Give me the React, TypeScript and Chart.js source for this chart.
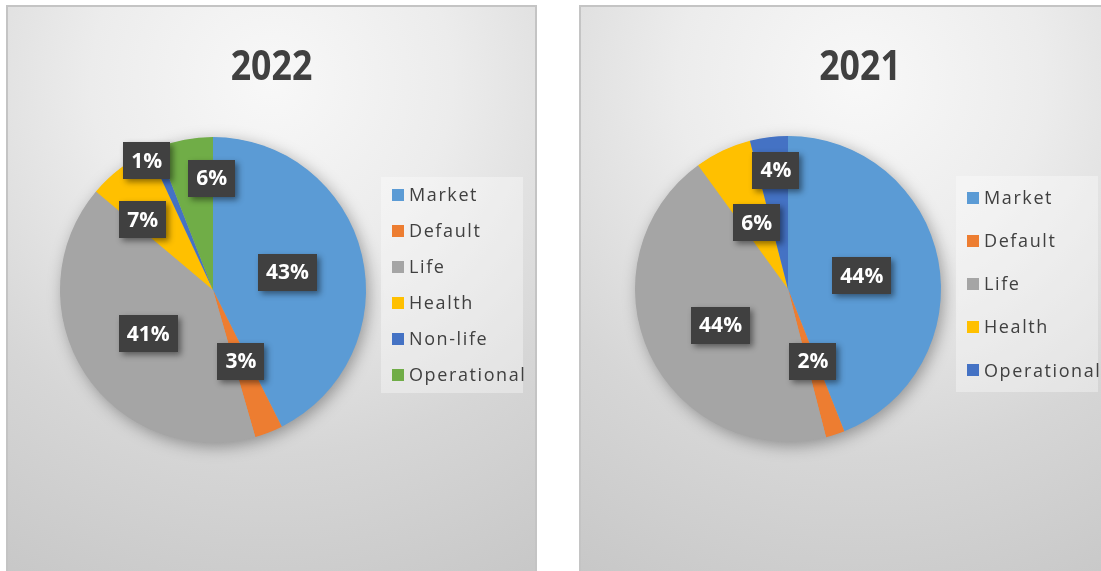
import React, { useEffect, useRef } from "react";
import { Chart, registerables } from "chart.js";

Chart.register(...registerables);

// ---------- data ----------
const title2022 = "2022";
const categories2022 = ["Market", "Default", "Life", "Health", "Non-life", "Operational"];
const values2022 = [43, 3, 41, 7, 1, 6];
const colors2022 = ["#5B9BD5", "#ED7D31", "#A5A5A5", "#FFC000", "#4472C4", "#70AD47"];

const title2021 = "2021";
const categories2021 = ["Market", "Default", "Life", "Health", "Operational"];
const values2021 = [44, 2, 44, 6, 4];
const colors2021 = ["#5B9BD5", "#ED7D31", "#A5A5A5", "#FFC000", "#4472C4"];

// label placement (fraction of radius, angular shift in degrees)
const labelRadius2022 = [0.5, 0.5, 0.51, 0.65, 0.95, 0.73];
const labelShift2022 = [0, 0, -1, -7.6, -4, 10];
const labelRadius2021 = [0.49, 0.5, 0.5, 0.48, 0.78];
const labelShift2021 = [0.8, -1, -3, 0, 1.4];

const TEXT = "#404040";

const decorPlugin = {
  id: "decor",
  beforeDatasetsDraw(chart: any, _args: any, opts: any) {
    const arc = chart.getDatasetMeta(0).data[0];
    if (!arc) return;
    const { x, y, outerRadius } = arc.getProps(["x", "y", "outerRadius"], true);
    const ctx = chart.ctx;
    ctx.save();
    ctx.shadowColor = "rgba(0,0,0,0.35)";
    ctx.shadowBlur = 16;
    ctx.shadowOffsetX = 3;
    ctx.shadowOffsetY = 4;
    ctx.beginPath();
    ctx.arc(x, y, outerRadius - 0.5, 0, Math.PI * 2);
    ctx.fillStyle = "#A5A5A5";
    ctx.fill();
    ctx.restore();
  },
  afterDatasetsDraw(chart: any, _args: any, opts: any) {
    const ctx = chart.ctx;
    const meta = chart.getDatasetMeta(0);
    const values = chart.data.datasets[0].data as number[];
    meta.data.forEach((el: any, i: number) => {
      const p = el.getProps(["x", "y", "startAngle", "endAngle", "outerRadius"], true);
      const mid = (p.startAngle + p.endAngle) / 2 + ((opts.shift[i] || 0) * Math.PI) / 180;
      const r = p.outerRadius * opts.radius[i];
      const lx = p.x + Math.cos(mid) * r;
      const ly = p.y + Math.sin(mid) * r;
      const text = `${values[i]}%`;
      ctx.save();
      ctx.font = "bold 21px 'Open Sans'";
      const tw = ctx.measureText(text).width;
      const bw = tw + 16;
      const bh = 37;
      ctx.shadowColor = "rgba(0,0,0,0.45)";
      ctx.shadowBlur = 6;
      ctx.shadowOffsetX = 3;
      ctx.shadowOffsetY = 3;
      ctx.fillStyle = "#404040";
      ctx.fillRect(Math.round(lx - bw / 2), Math.round(ly - bh / 2), Math.round(bw), bh);
      ctx.restore();
      ctx.save();
      ctx.font = "bold 21px 'Open Sans'";
      ctx.fillStyle = "#FFFFFF";
      ctx.textAlign = "center";
      ctx.textBaseline = "middle";
      ctx.fillText(text, lx, ly + 1);
      ctx.restore();
    });
  },
  afterDraw(chart: any, _args: any, opts: any) {
    const ctx = chart.ctx;
    const arc = chart.getDatasetMeta(0).data[0];
    if (!arc) return;
    const { x: cx, y: cy } = arc.getProps(["x", "y"], true);
    // title
    ctx.save();
    ctx.fillStyle = TEXT;
    ctx.font = "bold 42px 'Open Sans'";
    ctx.textAlign = "center";
    ctx.textBaseline = "alphabetic";
    ctx.translate(chart.width / 2, 73);
    ctx.scale(0.85, 1);
    ctx.fillText(opts.title, 0, 0);
    ctx.restore();
    // legend
    const labels = chart.data.labels as string[];
    const colors = chart.data.datasets[0].backgroundColor as string[];
    const top = cy - 113;
    const h = 216;
    ctx.save();
    ctx.fillStyle = "rgba(255,255,255,0.35)";
    ctx.fillRect(cx + 168, top, 142, h);
    const n = labels.length;
    labels.forEach((lab, i) => {
      const iy = top + ((i + 0.5) * h) / n;
      ctx.fillStyle = colors[i];
      ctx.fillRect(cx + 179, Math.round(iy - 6), 12, 12);
      ctx.fillStyle = TEXT;
      ctx.font = "18px 'Open Sans'";
      (ctx as any).letterSpacing = "1.6px";
      ctx.textAlign = "left";
      ctx.textBaseline = "middle";
      ctx.fillText(lab, cx + 196, iy + 1);
    });
    ctx.restore();
  },
};

type PanelProps = {
  left: number;
  width: number;
  title: string;
  labels: string[];
  values: number[];
  colors: string[];
  radius: number[];
  shift: number[];
  pad: { left: number; top: number; right: number; bottom: number };
};

function Panel(props: PanelProps) {
  const ref = useRef<HTMLCanvasElement>(null);
  const cw = props.width - 4;
  const ch = 564;
  useEffect(() => {
    if (!ref.current) return;
    const chart = new Chart(ref.current, {
      type: "pie",
      data: {
        labels: props.labels,
        datasets: [
          {
            data: props.values,
            backgroundColor: props.colors,
            borderWidth: 0,
          },
        ],
      },
      options: {
        animation: false,
        responsive: false,
        devicePixelRatio: 1,
        layout: { padding: props.pad },
        plugins: {
          legend: { display: false },
          title: { display: false },
          tooltip: { enabled: false },
          decor: { title: props.title, radius: props.radius, shift: props.shift },
        } as any,
      },
      plugins: [decorPlugin as any],
    });
    return () => chart.destroy();
  }, []);
  return (
    <div
      style={{
        position: "absolute",
        left: props.left,
        top: 5,
        width: props.width,
        height: 620,
        boxSizing: "border-box",
        border: "2px solid #c4c4c4",
        background:
          "radial-gradient(circle farthest-corner at 50% 12%, #f8f8f8 0%, #ececec 30%, #d6d6d6 62%, #c4c4c4 100%)",
      }}
    >
      <canvas
        ref={ref}
        width={cw}
        height={ch}
        style={{ position: "absolute", left: 0, top: 0, width: cw, height: ch }}
      />
    </div>
  );
}

export default function App() {
  return (
    <div
      style={{
        position: "absolute",
        left: 0,
        top: 0,
        width: 1101,
        height: 571,
        overflow: "hidden",
        background: "#ffffff",
      }}
    >
      <Panel
        left={6}
        width={531}
        title={title2022}
        labels={categories2022}
        values={values2022}
        colors={colors2022}
        radius={labelRadius2022}
        shift={labelShift2022}
        pad={{ left: 52, top: 130, right: 169, bottom: 128 }}
      />
      <Panel
        left={579}
        width={562}
        title={title2021}
        labels={categories2021}
        values={values2021}
        colors={colors2021}
        radius={labelRadius2021}
        shift={labelShift2021}
        pad={{ left: 54, top: 129, right: 198, bottom: 129 }}
      />
    </div>
  );
}
